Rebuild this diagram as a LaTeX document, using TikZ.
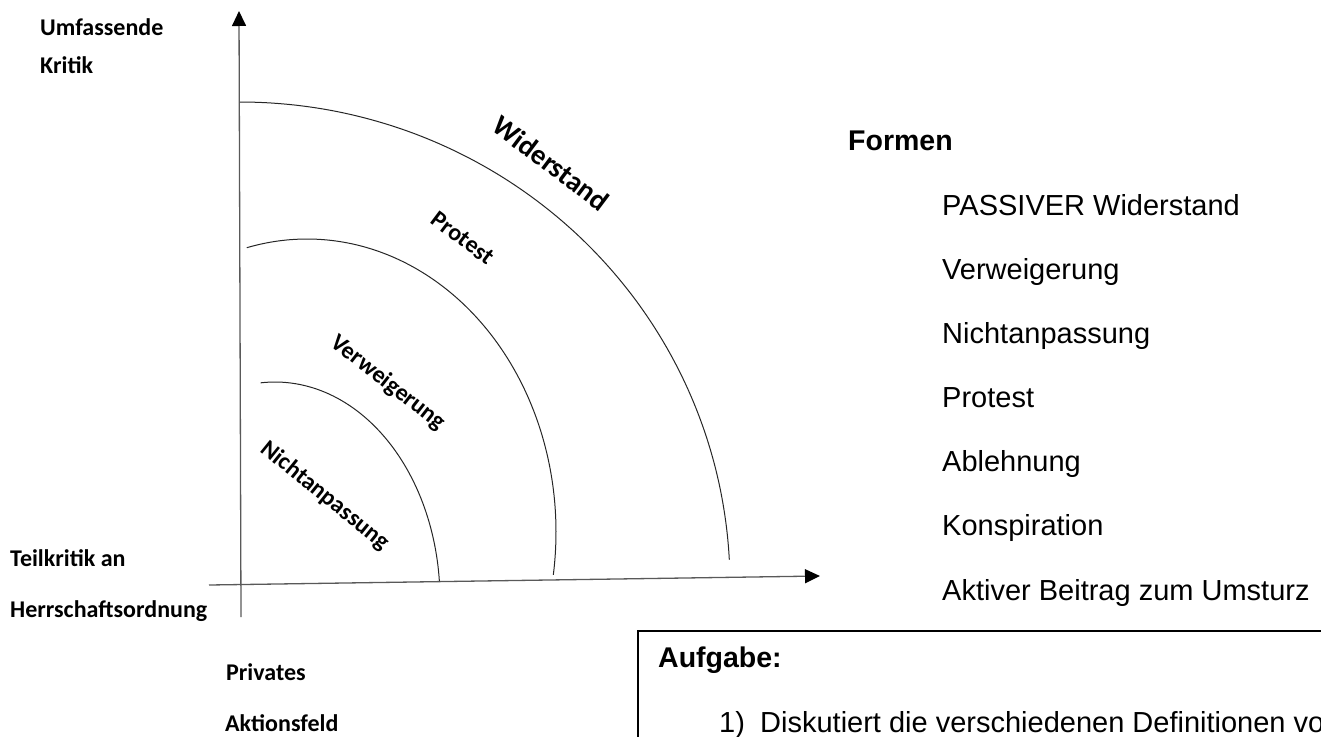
\documentclass[tikz,border=0pt]{standalone}
\usepackage{fontspec}
\setmainfont{Liberation Sans}
\newfontfamily\carlito{Carlito}
\usetikzlibrary{arrows.meta}
\begin{document}
\begin{tikzpicture}[x=1pt,y=-1pt,
  axisline/.style={line width=1.3pt, draw=black!65, -{Triangle[length=15pt,width=14pt,color=black]}},
  arcline/.style={line width=1pt, draw=black!85},
  lab/.style={font=\carlito\bfseries\fontsize{24}{28}\selectfont, inner sep=0pt, anchor=base west},
  arclab/.style={font=\carlito\bfseries\fontsize{24}{28}\selectfont, inner sep=0pt, anchor=center},
  listitem/.style={font=\fontsize{29}{34}\selectfont, inner sep=0pt, anchor=base west},
  head/.style={font=\bfseries\fontsize{28.5}{34}\selectfont, inner sep=0pt, anchor=base west},
  boxline/.style={line width=1.4pt, draw=black}]
\useasboundingbox (0,0) rectangle (1321,736);

% axes
\coordinate (ybot) at (241,617);
\coordinate (ytop) at (239,11);
\coordinate (xleft) at (209,585);
\coordinate (xright) at (820,576);
\draw[axisline] (ybot) -- (ytop);
\draw[axisline] (xleft) -- (xright);

% arcs
\draw[arcline] plot[domain=-90:-3, samples=80, smooth, variable=\t] ({240+490*cos(\t)}, {585+483*sin(\t)});
\draw[arcline] plot[domain=-104:8.4, samples=80, smooth, variable=\t] ({307+249*cos(\t)}, {532+293*sin(\t)});
\draw[arcline] plot[domain=-95:-5, samples=60, smooth, variable=\t] ({275+165*cos(\t)}, {600+218*sin(\t)});

% arc labels
\node[arclab, font=\carlito\bfseries\fontsize{28.5}{34}\selectfont, rotate=-37] (wid) at (551,163) {Widerstand};
\node[arclab, rotate=-37] (prot) at (463,238) {Protest};
\node[arclab, rotate=-38] (verw) at (388,383) {Verweigerung};
\node[arclab, rotate=-39] (nicht) at (325,496) {Nichtanpassung};

% axis labels
\node[lab] (umf) at (40,35) {Umfassende};
\node[lab] (krit) at (40,73) {Kritik};
\node[lab] (teil) at (10,566) {Teilkritik an};
\node[lab] (herr) at (10,617) {Herrschaftsordnung};
\node[lab] (priv) at (226,680) {Privates};
\node[lab] (akt) at (225,731) {Aktionsfeld};

% right list
\node[head] (formen) at (848,150) {Formen};
\node[listitem] (f1) at (942,215) {PASSIVER Widerstand};
\node[listitem] (f2) at (942,279) {Verweigerung};
\node[listitem] (f3) at (942,343) {Nichtanpassung};
\node[listitem] (f4) at (942,407) {Protest};
\node[listitem] (f5) at (942,471) {Ablehnung};
\node[listitem] (f6) at (942,535) {Konspiration};
\node[listitem] (f7) at (942,600) {Aktiver Beitrag zum Umsturz};

% task box
\draw[boxline] (638,760) -- (638,631) -- (1340,631);
\node[head] (aufg) at (658,667) {Aufgabe:};
\node[listitem] (n1) at (719,732) {1)};
\node[listitem] (t1) at (760,732) {Diskutiert die verschiedenen Definitionen vo};
\end{tikzpicture}
\end{document}
